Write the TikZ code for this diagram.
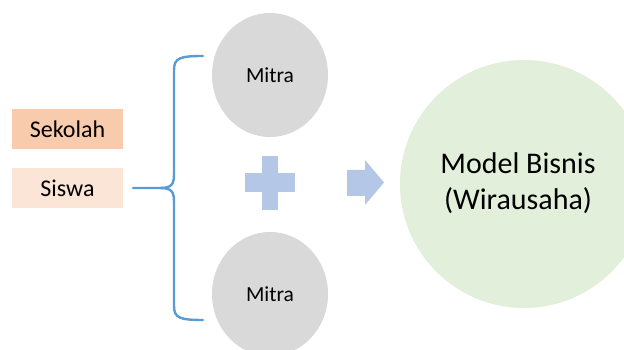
\documentclass[tikz,border=0pt]{standalone}
\usepackage{fontspec}
\setmainfont{Carlito}
\usetikzlibrary{shapes.geometric}
\definecolor{sekolahC}{HTML}{F8CBAD}
\definecolor{siswaC}{HTML}{FBE5D6}
\definecolor{mitraC}{HTML}{D9D9D9}
\definecolor{modelC}{HTML}{E2EFDA}
\definecolor{symC}{HTML}{B4C7E7}
\definecolor{braceC}{HTML}{5B9BD5}
\tikzset{
  labelbox/.style={rectangle, minimum width=111pt, minimum height=40pt, inner sep=0pt, font=\fontsize{24}{28}\selectfont},
  mitra/.style={ellipse, fill=mitraC, minimum width=116pt, minimum height=124pt, inner sep=0pt, font=\fontsize{21.5}{25}\selectfont},
  bracestyle/.style={draw=braceC, line width=2.4pt, line cap=round},
}
\begin{document}
\begin{tikzpicture}[x=1pt,y=1pt]
\useasboundingbox (0,0) rectangle (624,350);
\fill[white] (0,0) rectangle (624,350);
\begin{scope}
\clip (0,0) rectangle (624,350);
% big circle
\node[circle, fill=modelC, minimum size=248pt, inner sep=0pt] (model) at (524,166) {};
\node[align=center, font=\fontsize{30}{36}\selectfont] (modeltext) at (518,167) {Model Bisnis\\(Wirausaha)};
% mitra circles
\node[mitra] (mitra1) at (270,275) {Mitra};
\node[mitra] (mitra2) at (270,56) {Mitra};
\end{scope}
% boxes
\node[labelbox, fill=sekolahC] (sekolah) at (67.5,221) {Sekolah};
\node[labelbox, fill=siswaC] (siswa) at (67.5,162) {Siswa};
% plus sign
\fill[symC] (262,140) rectangle (278,194);
\fill[symC] (245,158) rectangle (295,177);
\node[inner sep=0pt] (plus) at (270,167) {};
% arrow
\fill[symC] (347,154) -- (365,154) -- (365,145) -- (384,167.5) -- (365,190) -- (365,180) -- (347,180) -- cycle;
\node[inner sep=0pt] (arr) at (365,167.5) {};
% brace
\coordinate (btop) at (203,294);
\coordinate (bbot) at (203,30);
\coordinate (btip) at (133,162);
\draw[bracestyle] (btop) .. controls (180,294) and (174,292) .. (174,280) -- (174,176)
  .. controls (174,166) and (172,162) .. (160,162) -- (btip);
\draw[bracestyle] (bbot) .. controls (180,30) and (174,32) .. (174,44) -- (174,148)
  .. controls (174,158) and (172,162) .. (160,162);
\end{tikzpicture}
\end{document}
